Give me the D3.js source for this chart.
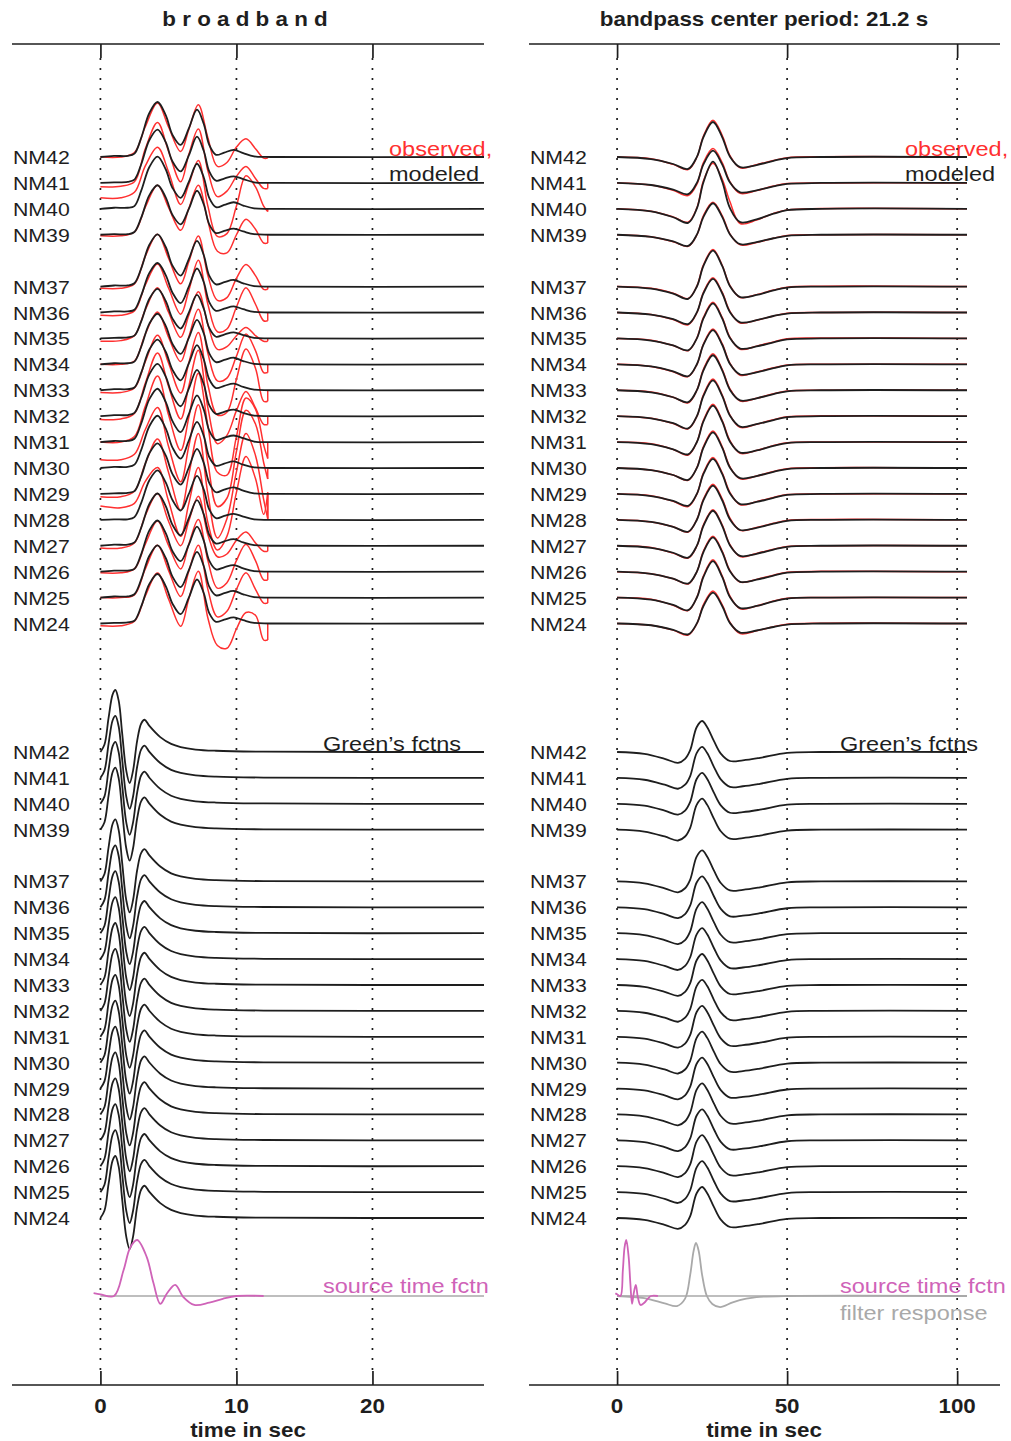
<!DOCTYPE html>
<html>
<head>
<meta charset="utf-8">
<script src="https://cdn.jsdelivr.net/npm/d3@7"></script>
<style>
  body { margin: 0; background: #fff; }
  svg { display: block; }
</style>
</head>
<body>
<script>
// ---------------- data ----------------
// stations ordered north to south; NM38 has no record but keeps its slot
const stations = ["NM42","NM41","NM40","NM39","NM38","NM37","NM36","NM35","NM34","NM33",
                  "NM32","NM31","NM30","NM29","NM28","NM27","NM26","NM25","NM24"];
const missingStations = ["NM38"];

// broadband axis ticks (s) and bandpass axis ticks (s)
const bbTicks = [0, 10, 20];
const bpTicks = [0, 50, 100];

// ---- broadband, modeled (black); amplitude normalised to NM42 first peak
const bbModelTime = [0, 1.0, 2.0, 2.5, 3.0, 3.6, 4.2, 4.8, 5.3, 5.9, 6.5, 7.1, 7.6, 8.0, 8.5, 9.1, 9.8, 10.5, 11.3, 12.5, 28.2];
const bbModeled = {
  NM42: [0, 0.02, 0.02, 0.06, 0.35, 0.80, 1.00, 0.76, 0.40, 0.22, 0.52, 0.86, 0.60, 0.22, 0.04, 0.08, 0.13, 0.07, 0.01, 0, 0],
  NM41: [0, 0.01, 0.02, 0.06, 0.34, 0.78, 0.97, 0.74, 0.39, 0.21, 0.50, 0.84, 0.58, 0.21, 0.04, 0.08, 0.12, 0.07, 0.01, 0, 0],
  NM40: [0, 0.02, 0.02, 0.05, 0.33, 0.76, 0.95, 0.72, 0.38, 0.20, 0.49, 0.82, 0.57, 0.20, 0.03, 0.07, 0.12, 0.06, 0.01, 0, 0],
  NM39: [0, 0.01, 0.01, 0.05, 0.31, 0.72, 0.90, 0.68, 0.36, 0.19, 0.47, 0.80, 0.55, 0.19, 0.03, 0.07, 0.11, 0.06, 0.01, 0, 0],
  NM37: [0, 0.02, 0.02, 0.06, 0.33, 0.76, 0.95, 0.72, 0.38, 0.20, 0.50, 0.83, 0.57, 0.20, 0.04, 0.08, 0.12, 0.06, 0.01, 0, 0],
  NM36: [0, 0.02, 0.02, 0.05, 0.31, 0.72, 0.90, 0.68, 0.36, 0.17, 0.47, 0.80, 0.55, 0.19, 0.03, 0.07, 0.11, 0.06, 0.01, 0, 0],
  NM35: [0, 0.01, 0.02, 0.05, 0.31, 0.72, 0.90, 0.68, 0.36, 0.18, 0.47, 0.79, 0.54, 0.19, 0.03, 0.07, 0.11, 0.06, 0.01, 0, 0],
  NM34: [0, 0.02, 0.02, 0.05, 0.32, 0.74, 0.92, 0.70, 0.37, 0.19, 0.48, 0.81, 0.56, 0.20, 0.04, 0.08, 0.12, 0.06, 0.01, 0, 0],
  NM33: [0, 0.02, 0.02, 0.05, 0.32, 0.74, 0.92, 0.70, 0.37, 0.18, 0.49, 0.82, 0.56, 0.20, 0.04, 0.08, 0.12, 0.06, 0.01, 0, 0],
  NM32: [0, 0.02, 0.02, 0.06, 0.33, 0.76, 0.95, 0.72, 0.38, 0.18, 0.50, 0.84, 0.58, 0.20, 0.04, 0.08, 0.12, 0.06, 0.01, 0, 0],
  NM31: [0, 0.02, 0.02, 0.06, 0.34, 0.78, 0.97, 0.73, 0.38, 0.18, 0.51, 0.85, 0.59, 0.21, 0.04, 0.08, 0.12, 0.07, 0.01, 0, 0],
  NM30: [0, 0.02, 0.02, 0.06, 0.33, 0.76, 0.95, 0.72, 0.37, 0.17, 0.50, 0.84, 0.58, 0.20, 0.04, 0.08, 0.12, 0.06, 0.01, 0, 0],
  NM29: [0, 0.01, 0.02, 0.05, 0.32, 0.74, 0.92, 0.70, 0.36, 0.17, 0.48, 0.82, 0.56, 0.20, 0.03, 0.08, 0.12, 0.06, 0.01, 0, 0],
  NM28: [0, 0.01, 0.01, 0.05, 0.31, 0.72, 0.90, 0.68, 0.36, 0.17, 0.47, 0.80, 0.55, 0.19, 0.03, 0.07, 0.11, 0.06, 0.01, 0, 0],
  NM27: [0, 0.02, 0.02, 0.06, 0.33, 0.76, 0.95, 0.72, 0.38, 0.19, 0.50, 0.83, 0.57, 0.20, 0.04, 0.08, 0.12, 0.06, 0.01, 0, 0],
  NM26: [0, 0.02, 0.02, 0.05, 0.32, 0.75, 0.93, 0.70, 0.37, 0.19, 0.49, 0.82, 0.56, 0.20, 0.04, 0.08, 0.12, 0.06, 0.01, 0, 0],
  NM25: [0, 0.02, 0.02, 0.06, 0.33, 0.76, 0.95, 0.72, 0.38, 0.19, 0.50, 0.83, 0.57, 0.20, 0.04, 0.08, 0.12, 0.06, 0.01, 0, 0],
  NM24: [0, 0.01, 0.02, 0.05, 0.31, 0.72, 0.90, 0.68, 0.36, 0.17, 0.47, 0.80, 0.55, 0.19, 0.03, 0.07, 0.11, 0.06, 0.01, 0, 0]
};

// ---- broadband, observed (red); records stop at 12.3 s
const bbObsTime = [0, 1.5, 2.5, 3.3, 4.2, 5.0, 5.9, 6.5, 7.2, 7.9, 8.6, 9.3, 10.0, 10.7, 11.4, 12.0, 12.3];
const bbObserved = {
  NM42: [0.00, 0.00, 0.08, 0.55, 0.98, 0.55, 0.10, 0.50, 0.95, 0.35, -0.17, -0.10, 0.18, 0.33, 0.15, -0.02, -0.02],
  NM41: [-0.07, -0.06, 0.02, 0.62, 1.10, 0.58, 0.02, 0.52, 0.98, 0.22, -0.25, -0.15, 0.12, 0.30, 0.08, -0.10, -0.10],
  NM40: [0.20, 0.20, 0.30, 0.78, 1.12, 0.68, 0.08, 0.45, 0.88, 0.05, -0.50, -0.45, 0.05, 0.60, 0.40, 0.05, -0.05],
  NM39: [-0.02, -0.02, 0.05, 0.50, 0.90, 0.50, 0.08, 0.48, 0.90, 0.25, -0.30, -0.33, 0.00, 0.28, 0.10, -0.15, -0.15],
  NM37: [-0.03, -0.03, 0.05, 0.55, 0.95, 0.52, 0.05, 0.45, 0.92, 0.20, -0.25, -0.20, 0.15, 0.40, 0.20, -0.05, -0.05],
  NM36: [-0.05, -0.05, 0.03, 0.50, 0.88, 0.45, -0.03, 0.40, 0.95, 0.15, -0.35, -0.30, 0.10, 0.45, 0.15, -0.15, -0.15],
  NM35: [-0.05, -0.04, 0.05, 0.52, 0.92, 0.48, 0.02, 0.42, 0.85, 0.25, -0.20, -0.15, 0.05, 0.20, 0.05, -0.05, -0.05],
  NM34: [0.00, 0.00, 0.06, 0.55, 0.95, 0.50, 0.05, 0.50, 1.00, 0.20, -0.30, -0.25, 0.15, 0.55, 0.25, -0.15, -0.15],
  NM33: [-0.04, -0.04, 0.04, 0.52, 1.00, 0.50, -0.05, 0.50, 1.05, 0.10, -0.45, -0.40, 0.20, 0.75, 0.40, -0.20, -0.20],
  NM32: [-0.06, -0.05, 0.05, 0.60, 1.15, 0.55, -0.05, 0.55, 1.20, 0.15, -0.50, -0.35, 0.10, 0.45, 0.15, -0.15, -0.15],
  NM31: [0.00, 0.00, 0.10, 0.65, 1.20, 0.50, -0.15, 0.45, 1.25, 0.30, -0.55, -0.60, 0.10, 0.80, 0.60, -0.05, -0.30],
  NM30: [0.15, 0.15, 0.25, 0.70, 1.10, 0.40, -0.25, 0.40, 1.15, 0.10, -0.70, -0.55, 0.30, 1.05, 0.80, 0.10, -0.20],
  NM29: [-0.05, -0.05, 0.05, 0.55, 1.00, 0.40, -0.30, 0.35, 1.10, 0.00, -0.80, -0.45, 0.40, 1.10, 0.70, -0.10, -0.45],
  NM28: [0.25, 0.22, 0.30, 0.70, 0.95, 0.35, -0.30, 0.30, 0.95, -0.05, -0.55, -0.30, 0.50, 1.15, 0.75, 0.10, 0.50],
  NM27: [-0.04, -0.04, 0.05, 0.55, 0.95, 0.45, 0.00, 0.45, 0.90, 0.20, -0.20, -0.15, 0.10, 0.25, 0.05, -0.10, -0.10],
  NM26: [-0.02, -0.02, 0.05, 0.50, 0.92, 0.48, 0.05, 0.50, 0.95, 0.20, -0.30, -0.20, 0.20, 0.50, 0.20, -0.15, -0.15],
  NM25: [0.00, 0.00, 0.05, 0.52, 0.95, 0.50, 0.02, 0.48, 0.95, 0.15, -0.35, -0.25, 0.15, 0.45, 0.15, -0.10, -0.10],
  NM24: [-0.04, -0.04, 0.04, 0.50, 0.92, 0.45, -0.05, 0.45, 0.95, 0.10, -0.40, -0.45, -0.10, 0.20, 0.15, -0.30, -0.30]
};

// ---- bandpass (21.2 s), modeled and observed
const bpTime = [0, 10, 16.5, 20.9, 23.5, 25.4, 28.2, 30.9, 33.2, 36.2, 41, 46, 50, 60, 102.9];
const bpModeled = {
  NM42: [0, -0.06, -0.20, -0.34, 0.01, 0.57, 1.00, 0.57, 0.01, -0.29, -0.23, -0.11, -0.03, 0, 0],
  NM41: [0, -0.06, -0.19, -0.32, 0.01, 0.53, 0.92, 0.53, 0.01, -0.27, -0.21, -0.10, -0.03, 0, 0],
  NM40: [0, -0.07, -0.24, -0.40, 0.02, 0.76, 1.35, 0.78, 0.02, -0.38, -0.30, -0.14, -0.04, 0, 0],
  NM39: [0, -0.06, -0.19, -0.32, 0.01, 0.51, 0.90, 0.51, 0.01, -0.27, -0.21, -0.10, -0.03, 0, 0],
  NM37: [0, -0.06, -0.20, -0.35, 0.01, 0.59, 1.03, 0.59, 0.01, -0.30, -0.24, -0.11, -0.03, 0, 0],
  NM36: [0, -0.06, -0.19, -0.33, 0.01, 0.55, 0.96, 0.55, 0.01, -0.28, -0.22, -0.10, -0.03, 0, 0],
  NM35: [0, -0.06, -0.20, -0.34, 0.01, 0.57, 1.00, 0.57, 0.01, -0.29, -0.23, -0.11, -0.03, 0, 0],
  NM34: [0, -0.06, -0.20, -0.34, 0.01, 0.56, 0.98, 0.56, 0.01, -0.29, -0.23, -0.11, -0.03, 0, 0],
  NM33: [0, -0.06, -0.20, -0.34, 0.01, 0.57, 1.00, 0.57, 0.01, -0.29, -0.23, -0.11, -0.03, 0, 0],
  NM32: [0, -0.06, -0.20, -0.35, 0.01, 0.58, 1.02, 0.58, 0.01, -0.30, -0.23, -0.11, -0.03, 0, 0],
  NM31: [0, -0.06, -0.21, -0.35, 0.01, 0.59, 1.04, 0.59, 0.01, -0.30, -0.24, -0.11, -0.03, 0, 0],
  NM30: [0, -0.06, -0.20, -0.34, 0.01, 0.58, 1.02, 0.58, 0.01, -0.29, -0.23, -0.11, -0.03, 0, 0],
  NM29: [0, -0.06, -0.20, -0.34, 0.01, 0.57, 1.00, 0.57, 0.01, -0.29, -0.23, -0.11, -0.03, 0, 0],
  NM28: [0, -0.06, -0.20, -0.34, 0.01, 0.56, 0.98, 0.56, 0.01, -0.29, -0.23, -0.11, -0.03, 0, 0],
  NM27: [0, -0.06, -0.20, -0.34, 0.01, 0.57, 1.00, 0.57, 0.01, -0.29, -0.23, -0.11, -0.03, 0, 0],
  NM26: [0, -0.06, -0.20, -0.34, 0.01, 0.56, 0.98, 0.56, 0.01, -0.29, -0.23, -0.11, -0.03, 0, 0],
  NM25: [0, -0.06, -0.21, -0.36, 0.01, 0.59, 1.04, 0.59, 0.01, -0.30, -0.24, -0.11, -0.03, 0, 0],
  NM24: [0, -0.05, -0.18, -0.31, 0.01, 0.50, 0.88, 0.50, 0.01, -0.26, -0.20, -0.10, -0.03, 0, 0]
};
const bpObserved = {
  NM42: [0, -0.05, -0.21, -0.36, 0.00, 0.60, 1.05, 0.62, 0.04, -0.31, -0.22, -0.10, -0.02, 0.01, 0],
  NM41: [0, -0.06, -0.21, -0.36, -0.03, 0.58, 0.98, 0.58, 0.03, -0.30, -0.22, -0.09, -0.02, 0, 0],
  NM40: [0, -0.07, -0.23, -0.38, 0.04, 0.80, 1.30, 0.85, 0.20, -0.42, -0.32, -0.13, -0.03, 0.01, 0],
  NM39: [0, -0.06, -0.20, -0.33, 0.00, 0.55, 0.93, 0.55, 0.02, -0.29, -0.22, -0.10, -0.02, 0, 0],
  NM37: [0, -0.05, -0.19, -0.34, 0.02, 0.62, 1.06, 0.61, 0.03, -0.31, -0.23, -0.10, -0.02, 0.01, 0],
  NM36: [0, -0.06, -0.20, -0.35, 0.00, 0.58, 0.99, 0.58, 0.03, -0.30, -0.22, -0.10, -0.02, 0, 0],
  NM35: [0, -0.05, -0.20, -0.35, 0.02, 0.60, 1.03, 0.60, 0.03, -0.31, -0.22, -0.10, -0.01, 0.01, 0],
  NM34: [0, -0.06, -0.21, -0.35, 0.00, 0.58, 1.01, 0.59, 0.03, -0.31, -0.22, -0.10, -0.02, 0, 0],
  NM33: [0, -0.05, -0.20, -0.36, 0.01, 0.60, 1.04, 0.60, 0.04, -0.31, -0.23, -0.10, -0.02, 0, 0],
  NM32: [0, -0.06, -0.21, -0.36, 0.00, 0.61, 1.06, 0.61, 0.03, -0.32, -0.23, -0.10, -0.02, 0.01, 0],
  NM31: [0, -0.05, -0.21, -0.37, 0.01, 0.62, 1.08, 0.62, 0.04, -0.32, -0.24, -0.10, -0.02, 0, 0],
  NM30: [0, -0.06, -0.20, -0.35, 0.02, 0.61, 1.06, 0.61, 0.03, -0.31, -0.23, -0.10, -0.02, 0.01, 0],
  NM29: [0, -0.05, -0.21, -0.36, 0.00, 0.60, 1.04, 0.60, 0.04, -0.31, -0.22, -0.10, -0.02, 0, 0],
  NM28: [0, -0.06, -0.20, -0.35, 0.02, 0.59, 1.02, 0.60, 0.05, -0.30, -0.22, -0.10, -0.02, 0.01, 0],
  NM27: [0, -0.05, -0.21, -0.35, 0.00, 0.60, 1.03, 0.60, 0.03, -0.31, -0.22, -0.10, -0.02, 0, 0],
  NM26: [0, -0.06, -0.20, -0.35, 0.01, 0.59, 1.01, 0.59, 0.03, -0.30, -0.22, -0.10, -0.02, 0.01, 0],
  NM25: [0, -0.05, -0.22, -0.37, 0.02, 0.62, 1.08, 0.62, 0.04, -0.32, -0.24, -0.10, -0.02, 0, 0],
  NM24: [0, -0.05, -0.19, -0.33, 0.00, 0.54, 0.93, 0.54, 0.03, -0.29, -0.21, -0.09, -0.02, 0.01, 0]
};

// ---- Green's functions (identical for every station)
const greensBBTime = [0, 0.3, 0.6, 0.9, 1.1, 1.35, 1.6, 1.9, 2.15, 2.4, 2.7, 3.0, 3.25, 3.6, 4.4, 5.2, 5.9, 7.0, 8.5, 12, 28.2];
const greensBB     = [0, 0.12, 0.55, 0.93, 1.0, 0.82, 0.30, -0.30, -0.50, -0.30, 0.18, 0.46, 0.52, 0.42, 0.24, 0.13, 0.08, 0.04, 0.02, 0.005, 0];
const greensBPTime = [0, 8, 14, 17.9, 20, 21.5, 23.4, 25, 26.5, 28.5, 30.5, 33.2, 37, 42, 50, 60, 102.9];
const greensBP     = [0, -0.06, -0.22, -0.35, -0.22, 0.06, 0.80, 1.0, 0.80, 0.35, -0.05, -0.29, -0.27, -0.19, -0.03, 0, 0];

// ---- source time function and bandpass filter response
const stfTime = [-0.5, 0, 1.0, 1.7, 2.2, 2.7, 3.4, 3.9, 4.4, 4.9, 5.5, 6.1, 6.9, 8.0, 9.0, 10.0, 12.0];
const stf     = [0.05, 0.03, 0.0, 0.46, 0.87, 1.0, 0.70, 0.23, -0.14, 0.05, 0.20, -0.02, -0.16, -0.12, -0.05, 0.0, 0.0];
const filterTime = [0, 8, 14, 17.6, 20, 21.5, 22.5, 23.2, 24, 25, 26.4, 28, 30.3, 34, 38, 41, 50, 102.9];
const filterResp = [0, -0.04, -0.14, -0.19, -0.05, 0.40, 0.85, 1.0, 0.85, 0.40, 0.0, -0.15, -0.21, -0.12, -0.05, -0.02, 0, 0];

// ---------------- drawing ----------------
const W = 1011, H = 1441;
const INK = "#1e1e1e", RED = "#ff3030", MAGENTA = "#cf63b8", GREY = "#a9a9a9";
const STRETCH = 1.12;           // text is set slightly wide
const FONT = "'Liberation Sans', Arial, Helvetica, sans-serif";
const TRACE_W = 1.8, RED_W = 1.5;

const svg = d3.select("body").append("svg").attr("width", W).attr("height", H)
  .style("font-family", FONT);

const yTop = d3.scalePoint().domain(stations).range([157, 623.5]);
const yGreen = d3.scalePoint().domain(stations).range([752, 1218]);
const yStf = 1296;
const axisTop = 44, axisBottom = 1385;

const present = stations.filter(s => !missingStations.includes(s));

const panels = [
  { id: "bb", left: 12, right: 484, domain: [-6.5, 28.2], tEnd: 28.2, ticks: bbTicks,
    title: "b r o a d b a n d", titleX: 245, xTitleX: 248,
    topAmp: 55, greenAmp: 62,
    modTime: bbModelTime, mod: bbModeled, obsTime: bbObsTime, obs: bbObserved, obsCut: true,
    gTime: greensBBTime, g: greensBB, annX: 389, greenX: 323 },
  { id: "bp", left: 529, right: 1000, domain: [-25.9, 112.6], tEnd: 102.9, ticks: bpTicks,
    title: "bandpass center period: 21.2 s", titleX: 764, xTitleX: 764,
    topAmp: 35, greenAmp: 31,
    modTime: bpTime, mod: bpModeled, obsTime: bpTime, obs: bpObserved, obsCut: false,
    gTime: greensBPTime, g: greensBP, annX: 905, greenX: 840 }
];

const smooth = d3.line().curve(d3.curveCatmullRom.alpha(0.5));
const straight = d3.line();

function addText(g, str, x, y, opts = {}) {
  return g.append("text")
    .attr("transform", `translate(${x},${y}) scale(${STRETCH},1)`)
    .attr("font-size", opts.size || 19)
    .attr("font-weight", opts.weight || "normal")
    .attr("fill", opts.fill || INK)
    .attr("text-anchor", opts.anchor || "start")
    .text(str);
}

panels.forEach(p => {
  const x = d3.scaleLinear().domain(p.domain).range([p.left, p.right]);
  const g = svg.append("g");

  // dotted reference lines at each tick
  g.selectAll("line.grid").data(p.ticks).join("line")
    .attr("x1", d => x(d)).attr("x2", d => x(d))
    .attr("y1", axisTop + 14).attr("y2", axisBottom - 14)
    .attr("stroke", INK).attr("stroke-width", 1.7)
    .attr("stroke-dasharray", "2,8");

  // top and bottom frame lines with inward ticks
  const topAxis = d3.axisBottom(x).tickValues(p.ticks).tickSize(14).tickFormat("");
  const botAxis = d3.axisTop(x).tickValues(p.ticks).tickSize(14).tickFormat("");
  [[topAxis, axisTop], [botAxis, axisBottom]].forEach(([ax, yy]) => {
    const a = g.append("g").attr("transform", `translate(0,${yy})`).call(ax);
    a.select(".domain").attr("d", `M${p.left},0H${p.right}`).attr("stroke", INK).attr("stroke-width", 1.7);
    a.selectAll(".tick line").attr("stroke", INK).attr("stroke-width", 1.7);
  });

  // tick labels and axis title
  p.ticks.forEach(t => addText(g, String(t), x(t), 1413, { size: 20, weight: "bold", anchor: "middle" }));
  addText(g, "time in sec", p.xTitleX, 1437, { size: 20, weight: "bold", anchor: "middle" });
  addText(g, p.title, p.titleX, 26, { size: 20, weight: "bold", anchor: "middle" });

  // station labels for both sections
  present.forEach(s => {
    addText(g, s, p.left + 1, yTop(s) + 7, { size: 19 });
    addText(g, s, p.left + 1, yGreen(s) + 7, { size: 19 });
  });

  const pts = (times, vals, y0, amp) => times.map((t, i) => [x(t), y0 - vals[i] * amp]);

  // observed records (red) under the modeled ones
  present.forEach(s => {
    const y0 = yTop(s);
    const p0 = pts(p.obsTime, p.obs[s], y0, p.topAmp);
    g.append("path").attr("d", smooth(p0)).attr("fill", "none")
      .attr("stroke", RED).attr("stroke-width", RED_W);
    if (p.obsCut) {
      const last = p0[p0.length - 1];
      g.append("path").attr("d", straight([last, [last[0], y0]])).attr("fill", "none")
        .attr("stroke", RED).attr("stroke-width", RED_W);
    }
  });
  present.forEach(s => {
    g.append("path").attr("d", smooth(pts(p.modTime, p.mod[s], yTop(s), p.topAmp)))
      .attr("fill", "none").attr("stroke", INK).attr("stroke-width", TRACE_W);
  });

  // Green's functions
  present.forEach(s => {
    g.append("path").attr("d", smooth(pts(p.gTime, p.g, yGreen(s), p.greenAmp)))
      .attr("fill", "none").attr("stroke", INK).attr("stroke-width", TRACE_W);
  });

  // zero line for the source / filter traces
  g.append("line").attr("x1", x(0)).attr("x2", x(p.tEnd)).attr("y1", yStf).attr("y2", yStf)
    .attr("stroke", GREY).attr("stroke-width", 1.5);
  if (p.id === "bp") {
    g.append("path").attr("d", smooth(pts(filterTime, filterResp, yStf, 53)))
      .attr("fill", "none").attr("stroke", GREY).attr("stroke-width", TRACE_W);
  }
  g.append("path").attr("d", smooth(pts(stfTime, stf, yStf, 56)))
    .attr("fill", "none").attr("stroke", MAGENTA).attr("stroke-width", TRACE_W);

  // annotations
  addText(g, "observed,", p.annX, 156, { size: 21, fill: RED });
  addText(g, "modeled", p.annX, 181, { size: 21 });
  addText(g, "Green\u2019s fctns", p.greenX, 751, { size: 21 });
  addText(g, "source time fctn", p.greenX, 1293, { size: 21, fill: MAGENTA });
  if (p.id === "bp") addText(g, "filter response", p.greenX, 1320, { size: 21, fill: GREY });
});
</script>
</body>
</html>
